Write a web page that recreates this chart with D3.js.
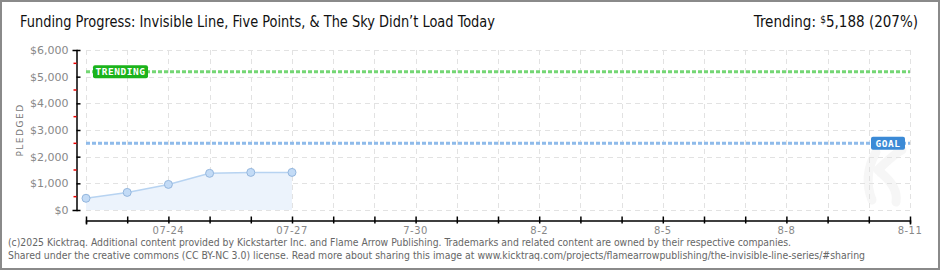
<!DOCTYPE html>
<html>
<head>
<meta charset="utf-8">
<script src="https://cdn.jsdelivr.net/npm/d3@7"></script>
<style>
  body { margin: 0; background: #fff; }
  svg { display: block; }
</style>
</head>
<body>
<div class="container"></div>
<script>
// pledge history
const dates = ["2025-07-22", "2025-07-23", "2025-07-24", "2025-07-25", "2025-07-26", "2025-07-27"];
const pledged = [440, 660, 960, 1375, 1410, 1410];
const goal = 2500;
const trending = 5188;
const yTicks = [0, 1000, 2000, 3000, 4000, 5000, 6000];
const xLabelDays = ["07-24", "07-27", "7-30", "8-2", "8-5", "8-8", "8-11"];
const xStart = "2025-07-22";
const xEnd = "2025-08-11";

const WIDTH = 940, HEIGHT = 270;
const MARGIN = { top: 50, right: 30, bottom: 60, left: 86 };
const parse = d3.utcParse("%Y-%m-%d");

const xScale = d3.scaleUtc()
  .domain([parse(xStart), parse(xEnd)])
  .range([MARGIN.left, WIDTH - MARGIN.right]);
const yScale = d3.scaleLinear()
  .domain([0, 6000])
  .range([HEIGHT - MARGIN.bottom, MARGIN.top]);

const data = dates.map((d, i) => ({ date: parse(d), value: pledged[i] }));
const allDays = d3.utcDay.range(parse(xStart), d3.utcDay.offset(parse(xEnd), 1));
const labelDays = allDays.filter((d, i) => i % 3 === 2);

const svg = d3.select(".container")
  .append("svg")
  .attr("width", WIDTH)
  .attr("height", HEIGHT)
  .attr("viewBox", [0, 0, WIDTH, HEIGHT]);

// frame
svg.append("rect")
  .attr("x", 1).attr("y", 1)
  .attr("width", WIDTH - 2).attr("height", HEIGHT - 2)
  .attr("fill", "#fff")
  .attr("stroke", "#8a8a8a")
  .attr("stroke-width", 2);

// title + trending
svg.append("text")
  .attr("x", 20).attr("y", 27)
  .attr("font-family", "DejaVu Sans Condensed, Liberation Sans Narrow, sans-serif")
  .attr("font-size", 15)
  .attr("fill", "#111")
  .attr("textLength", 475)
  .attr("lengthAdjust", "spacingAndGlyphs")
  .text("Funding Progress: Invisible Line, Five Points, & The Sky Didn\u2019t Load Today");

const tr = svg.append("text")
  .attr("x", 918).attr("y", 27)
  .attr("text-anchor", "end")
  .attr("font-family", "DejaVu Sans Condensed, Liberation Sans Narrow, sans-serif")
  .attr("font-size", 15)
  .attr("fill", "#111");
tr.append("tspan").text("Trending:   ");
tr.append("tspan").attr("font-size", 10).attr("dy", -4).text("$");
tr.append("tspan").attr("dy", 4).text("5,188 (207%)");

// watermark
svg.append("path")
  .attr("d", "M872,200 C866,185 866,170 876,152 M878,170 C888,160 898,152 902,150 M880,172 C890,180 898,190 896,202")
  .attr("fill", "none")
  .attr("stroke", "#f6f6f6")
  .attr("stroke-width", 9)
  .attr("stroke-linecap", "round");

// grid
const grid = svg.append("g")
  .attr("stroke", "#e2e2e2")
  .attr("stroke-dasharray", "5,4")
  .attr("stroke-width", 1);
grid.selectAll(".gy")
  .data(yTicks)
  .join("line")
  .attr("x1", MARGIN.left).attr("x2", WIDTH - MARGIN.right)
  .attr("y1", d => Math.round(yScale(d)) + 0.5)
  .attr("y2", d => Math.round(yScale(d)) + 0.5);
grid.selectAll(".gx")
  .data(allDays)
  .join("line")
  .attr("x1", d => Math.round(xScale(d)) + 0.5)
  .attr("x2", d => Math.round(xScale(d)) + 0.5)
  .attr("y1", MARGIN.top)
  .attr("y2", yScale(0));

// area + line + dots
svg.append("path")
  .datum(data)
  .attr("fill", "#ecf3fc")
  .attr("d", d3.area().x(d => xScale(d.date)).y0(yScale(0)).y1(d => yScale(d.value)));
svg.append("path")
  .datum(data)
  .attr("fill", "none")
  .attr("stroke", "#b7d3f1")
  .attr("stroke-width", 1.5)
  .attr("d", d3.line().x(d => xScale(d.date)).y(d => yScale(d.value)));
svg.append("g")
  .selectAll("circle")
  .data(data)
  .join("circle")
  .attr("cx", d => xScale(d.date))
  .attr("cy", d => yScale(d.value))
  .attr("r", 4)
  .attr("fill", "#c3dbf6")
  .attr("stroke", "#95b7de")
  .attr("stroke-width", 1);

// goal / trending lines
function refLine(value, color) {
  svg.append("line")
    .attr("x1", MARGIN.left).attr("x2", WIDTH - MARGIN.right)
    .attr("y1", yScale(value)).attr("y2", yScale(value))
    .attr("stroke", color)
    .attr("stroke-width", 3)
    .attr("stroke-dasharray", "4,2");
}
refLine(trending, "#74d674");
refLine(goal, "#8fbbea");

function badge(x, value, w, label, color) {
  const y = yScale(value);
  svg.append("rect")
    .attr("x", x).attr("y", y - 6.5)
    .attr("width", w).attr("height", 13)
    .attr("rx", 2)
    .attr("fill", color);
  svg.append("text")
    .attr("x", x + w / 2).attr("y", y + 3.5)
    .attr("text-anchor", "middle")
    .attr("font-family", "DejaVu Sans Mono, monospace")
    .attr("font-size", 9.5)
    .attr("font-weight", "bold")
    .attr("letter-spacing", 0.5)
    .attr("fill", "#fff")
    .text(label);
}
badge(93, trending, 55, "TRENDING", "#1bb31b");
badge(871, goal, 34, "GOAL", "#3b8ad6");

// y axis
const yAxis = svg.append("g")
  .attr("transform", "translate(76.5,0)")
  .call(d3.axisLeft(yScale).tickValues(yTicks).tickSize(4).tickFormat(d => "$" + d3.format(",")(d)));
yAxis.select(".domain").attr("stroke", "#000").attr("stroke-width", 1.5);
yAxis.selectAll(".tick line").attr("x2", 4).attr("stroke", "#000").attr("stroke-width", 1.5);
yAxis.selectAll(".tick text")
  .attr("x", -8)
  .attr("fill", "#888")
  .attr("font-family", "DejaVu Sans, sans-serif")
  .attr("font-size", 11);
// minor red ticks
yAxis.selectAll(".minor")
  .data(d3.range(500, 6000, 1000))
  .join("line")
  .attr("x1", -3).attr("x2", 0)
  .attr("y1", d => yScale(d)).attr("y2", d => yScale(d))
  .attr("stroke", "#e00")
  .attr("stroke-width", 1.5);

svg.append("text")
  .attr("transform", "translate(23,130) rotate(-90)")
  .attr("text-anchor", "middle")
  .attr("font-family", "DejaVu Sans, sans-serif")
  .attr("font-size", 9)
  .attr("letter-spacing", 1.5)
  .attr("fill", "#777")
  .text("PLEDGED");

// x axis
const xAxis = svg.append("g")
  .attr("transform", "translate(0,220.5)")
  .call(d3.axisBottom(xScale).tickValues(allDays).tickSize(4).tickFormat(""));
xAxis.select(".domain").attr("stroke", "#000").attr("stroke-width", 1.5);
xAxis.selectAll(".tick line").attr("y1", -4).attr("y2", 3).attr("stroke", "#000").attr("stroke-width", 1.5);

svg.append("g")
  .selectAll("text")
  .data(labelDays)
  .join("text")
  .attr("x", d => xScale(d))
  .attr("y", 234)
  .attr("text-anchor", "middle")
  .attr("font-family", "DejaVu Sans, sans-serif")
  .attr("font-size", 10)
  .attr("letter-spacing", 0.5)
  .attr("fill", "#888")
  .text((d, i) => xLabelDays[i]);

// footer
const footer = [
  "(c)2025 Kicktraq. Additional content provided by Kickstarter Inc. and Flame Arrow Publishing. Trademarks and related content are owned by their respective companies.",
  "Shared under the creative commons (CC BY-NC 3.0) license. Read more about sharing this image at www.kicktraq.com/projects/flamearrowpublishing/the-invisible-line-series/#sharing"
];
const footerWidths = [783, 857];
svg.append("g")
  .selectAll("text")
  .data(footer)
  .join("text")
  .attr("x", 8)
  .attr("y", (d, i) => 246 + i * 13)
  .attr("font-family", "DejaVu Sans Condensed, Liberation Sans Narrow, sans-serif")
  .attr("font-size", 10)
  .attr("fill", "#666")
  .attr("textLength", (d, i) => footerWidths[i])
  .attr("lengthAdjust", "spacingAndGlyphs")
  .text(d => d);
</script>
</body>
</html>
